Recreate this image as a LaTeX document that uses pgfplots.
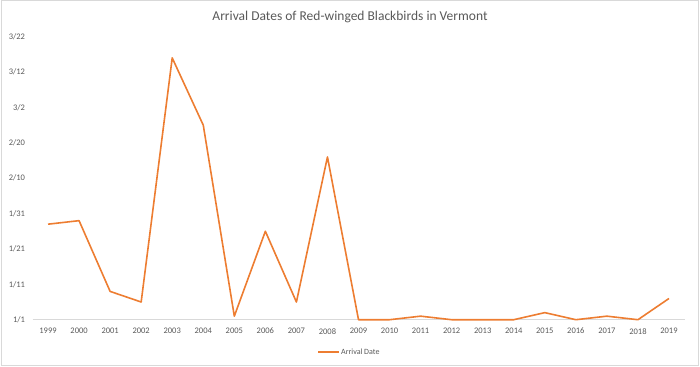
\documentclass[border=0pt]{standalone}
\usepackage{pgfplots}
\pgfplotsset{compat=1.18}
\usepackage{fontspec}
\setmainfont{Carlito}
\definecolor{xlorange}{HTML}{ED7D31}
\definecolor{xlgray}{HTML}{595959}
\definecolor{xlline}{HTML}{D9D9D9}
\begin{document}
\begin{tikzpicture}[x=1bp,y=1bp]
\useasboundingbox (0,0) rectangle (700,366);
\draw[xlline, line width=1bp] (1,1) rectangle (698.5,365);
\node[text=xlgray, font=\fontsize{13.5bp}{16bp}\selectfont] at (350,349) {Arrival Dates of Red-winged Blackbirds in Vermont};
\begin{axis}[
  at={(32.5bp,46.3bp)}, anchor=south west,
  scale only axis, width=652bp, height=283bp,
  xmin=-0.5, xmax=20.5, ymin=0, ymax=80,
  xtick={0,...,20},
  xticklabels={1999,2000,2001,2002,2003,2004,2005,2006,2007,2008,2009,2010,2011,2012,2013,2014,2015,2016,2017,2018,2019},
  ytick={0,10,...,80},
  yticklabels={1/1,1/11,1/21,1/31,2/10,2/20,3/2,3/12,3/22},
  major tick length=0pt,
  axis line style={draw=none},
  axis x line*=bottom, axis y line*=left,
  separate axis lines,
  x axis line style={draw=xlline, line width=0.75bp},
  tick label style={text=xlgray, font=\fontsize{8.5bp}{10bp}\selectfont},
  /pgf/number format/assume math mode=true,
  xticklabel style={yshift=-5bp},
  yticklabel style={xshift=-4bp},
  clip=false,
]
\addplot[xlorange, line width=1.6bp, line join=round] coordinates {
(0,27) (1,28) (2,8) (3,5) (4,74) (5,55) (6,1) (7,25) (8,5) (9,46)
(10,0) (11,0) (12,1) (13,0) (14,0) (15,0) (16,2) (17,0) (18,1) (19,0) (20,6)
};
\end{axis}
\draw[xlorange, line width=1.6bp] (318,14) -- (339,14);
\node[anchor=west, inner sep=0pt, text=xlgray, font=\fontsize{8bp}{10bp}\selectfont] at (341,14) {Arrival Date};
\end{tikzpicture}
\end{document}
